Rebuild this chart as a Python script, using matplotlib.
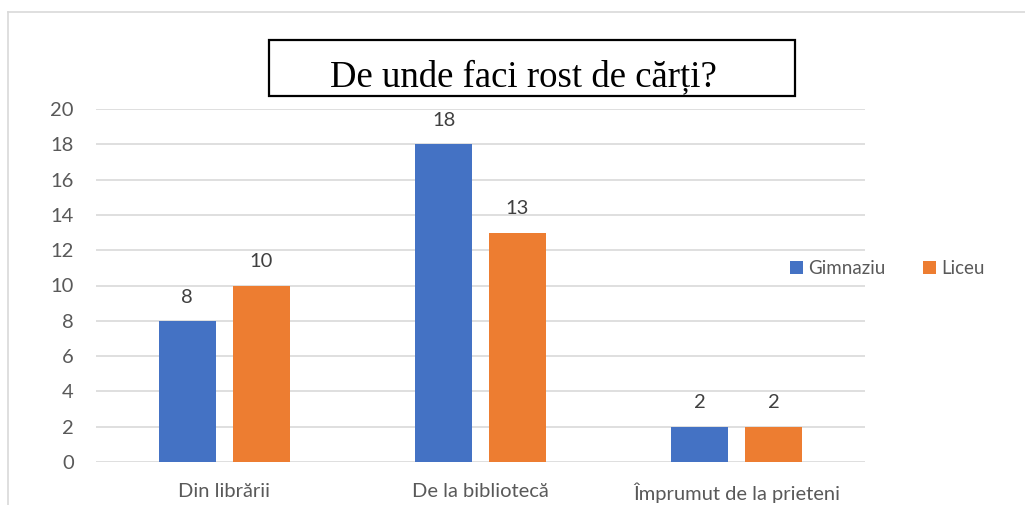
import numpy as np
import matplotlib
matplotlib.use("Agg")
import matplotlib.pyplot as plt
from matplotlib.patches import Rectangle
from matplotlib.lines import Line2D

# Chart data
categories = ["Din librării", "De la bibliotecă", "Împrumut de la prieteni"]
gimnaziu = [8, 18, 2]
liceu = [10, 13, 2]
series_names = ["Gimnaziu", "Liceu"]
yticks = [0, 2, 4, 6, 8, 10, 12, 14, 16, 18, 20]
title = "De unde faci rost de cărți?"

blue = "#4472C4"
orange = "#ED7D31"
text_gray = "#595959"
grid_gray = "#D9D9D9"

plt.rcParams["font.family"] = ["Lato", "DejaVu Sans"]

fig = plt.figure(figsize=(10.25, 5.05), dpi=100)
W, H = 1025, 505

# outer chart border (only top and left visible in the crop)
fig.add_artist(Line2D([8 / W, 8 / W], [0, 1 - 12 / H], color=grid_gray, lw=1.2))
fig.add_artist(Line2D([8 / W, 1], [1 - 12 / H, 1 - 12 / H], color=grid_gray, lw=1.2))

ax = fig.add_axes([96 / W, 43 / H, 769 / W, 353 / H])

x = np.arange(len(categories))
bw = 0.222
off = 0.144
b1 = ax.bar(x - off, gimnaziu, bw, color=blue, label=series_names[0], zorder=3)
b2 = ax.bar(x + off, liceu, bw, color=orange, label=series_names[1], zorder=3)
for bars in (b1, b2):
    ax.bar_label(bars, padding=11, fontsize=14.5, color="#404040")

ax.set_xlim(-0.5, 2.5)
ax.set_ylim(0, 20)
ax.set_yticks(yticks)
ax.set_xticks(x)
ax.set_xticklabels(categories)
ax.tick_params(axis="both", length=0, labelsize=14.5, labelcolor=text_gray)
ax.tick_params(axis="y", pad=16)
ax.tick_params(axis="x", pad=15)
ax.grid(axis="y", color=grid_gray, lw=1.2, zorder=0)
for s in ax.spines.values():
    s.set_visible(False)

ax.legend(loc="center left", bbox_to_anchor=(790 / W, 236 / H),
          bbox_transform=fig.transFigure, ncol=2, frameon=False,
          fontsize=13.5, labelcolor=text_gray, handlelength=0.68,
          handleheight=0.68, handletextpad=0.3, columnspacing=2.0,
          borderpad=0, borderaxespad=0)

# boxed title
fig.add_artist(Rectangle((269 / W, 1 - 96 / H), 526 / W, 56 / H,
                         transform=fig.transFigure, fill=False,
                         edgecolor="black", lw=1.6))
fig.text(523 / W, 1 - 86 / H, title, ha="center", va="baseline",
         fontsize=26.5, family="Liberation Serif", color="black")

fig.savefig("out.png", dpi=100)
